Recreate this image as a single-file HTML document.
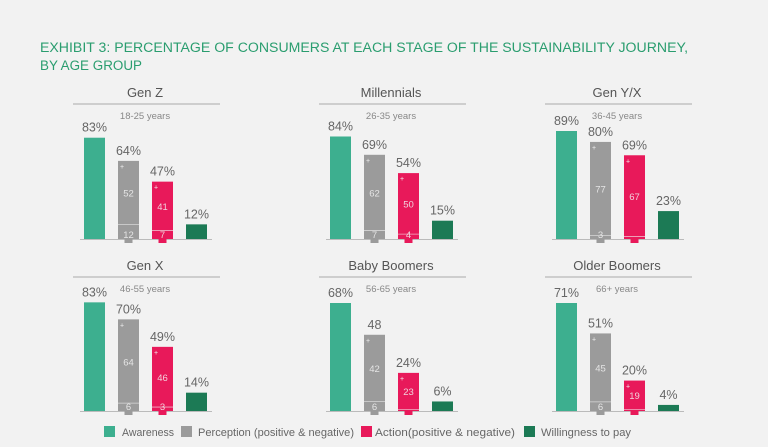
<!DOCTYPE html>
<html><head><meta charset="utf-8"><style>
body{margin:0;background:#f2f2f2;}
svg{display:block;font-family:"Liberation Sans",sans-serif;}
</style></head><body>
<svg id="chart" width="768" height="447" viewBox="0 0 768 447">
<rect width="768" height="447" fill="#f2f2f2"/>
<text x="40" y="52" font-size="13.5" fill="#2a9d6f" textLength="648" lengthAdjust="spacingAndGlyphs">EXHIBIT 3: PERCENTAGE OF CONSUMERS AT EACH STAGE OF THE SUSTAINABILITY JOURNEY,</text>
<text x="40" y="70" font-size="13.5" fill="#2a9d6f" textLength="102" lengthAdjust="spacingAndGlyphs">BY AGE GROUP</text>
<g id="panels"></g>
<g>
<rect x="104" y="426" width="11" height="11" fill="#3daf8f"/>
<text x="122" y="436" font-size="11" fill="#666" textLength="52" lengthAdjust="spacingAndGlyphs">Awareness</text>
<rect x="181" y="426" width="11" height="11" fill="#9b9b9b"/>
<text x="198" y="436" font-size="11" fill="#666" textLength="156" lengthAdjust="spacingAndGlyphs">Perception (positive &amp; negative)</text>
<rect x="361" y="426" width="11" height="11" fill="#e8195a"/>
<text x="375" y="436" font-size="11" fill="#666" textLength="140" lengthAdjust="spacingAndGlyphs">Action(positive &amp; negative)</text>
<rect x="524" y="426" width="11" height="11" fill="#1c7a55"/>
<text x="541" y="436" font-size="11" fill="#666" textLength="90" lengthAdjust="spacingAndGlyphs">Willingness to pay</text>
</g>
</svg>
<script>
const groups = ["Gen Z","Millennials","Gen Y/X","Gen X","Baby Boomers","Older Boomers"];
const ageRanges = ["18-25 years","26-35 years","36-45 years","46-55 years","56-65 years","66+ years"];
const awareness = [83,84,89,83,68,71];
const perception = [64,69,80,70,48,51];
const perceptionPos = [52,62,77,64,42,45];
const perceptionNeg = [12,7,3,6,6,6];
const action = [47,54,69,49,24,20];
const actionPos = [41,50,67,46,23,19];
const actionNeg = [7,4,2,3,1,1];
const willingness = [12,15,23,14,6,4];
const perceptionLabels = ["64%","69%","80%","70%","48","51%"];
const domainMax = [88.5,88.5,89,82.5,68,71];

const NS="http://www.w3.org/2000/svg";
const root=document.getElementById('panels');
function mk(tag,attrs,parent){const e=document.createElementNS(NS,tag);for(const k in attrs)e.setAttribute(k,attrs[k]);parent.appendChild(e);return e;}
const colX=[84,330,556], rowBase=[239,411], plotH=108;
groups.forEach((g,i)=>{
  const x0=colX[i%3], base=rowBase[Math.floor(i/3)];
  const y=v=>base-v/domainMax[i]*plotH;
  const gp=mk('g',{},root);
  
  
  const cx=x0+61, ty=base-(i<3?142:141);
  const t=mk('text',{x:cx,y:ty,'font-size':13,fill:'#555','text-anchor':'middle'},gp);t.textContent=g;
  
  
  const ln=mk('line',{x1:x0-11,x2:x0+136,y1:ty+7,y2:ty+7,stroke:'#aaa','stroke-width':1},gp);
  
  
  const st=mk('text',{x:cx,y:ty+22,'font-size':9.5,fill:'#888','text-anchor':'middle'},gp);st.textContent=ageRanges[i];
  
  
  const bl=mk('line',{x1:x0-4,x2:x0+128,y1:base+0.5,y2:base+0.5,stroke:'#bbb','stroke-width':1},gp);
  
  
  const W=21;
  function bar(bx,v,col,name,lab){
    const r=mk('rect',{x:bx,y:y(v),width:W,height:base-y(v),fill:col},gp);
    
    
    const tx=mk('text',{x:bx+W/2,y:y(v)-6,'font-size':12.5,fill:'#666','text-anchor':'middle'},gp);tx.textContent=lab;
    
    
  }
  function split(bx,pos,neg,tot,col){
    const sy=y(neg);
    const s=mk('line',{x1:bx,x2:bx+W,y1:sy,y2:sy,stroke:'#f2f2f2','stroke-width':0.8,'stroke-opacity':0.7},gp);
    
    
    const tab=mk('rect',{x:bx+W/2-4,y:base,width:8,height:4,fill:col},gp);
    
    
    const pt=mk('text',{x:bx+W/2,y:(y(tot)+sy)/2+4,'font-size':9.5,fill:'#f2f2f2','fill-opacity':0.85,'text-anchor':'middle'},gp);pt.textContent=pos;
    
    
    if(neg>=3){
      const nt=mk('text',{x:bx+W/2,y:base-1,'font-size':9.5,fill:'#f2f2f2','fill-opacity':0.85,'text-anchor':'middle'},gp);nt.textContent=neg;
      
      
    }
    const plus=mk('text',{x:bx+2,y:y(tot)+8,'font-size':7,fill:'#f2f2f2'},gp);plus.textContent='+';
    
    
  }
  bar(x0,awareness[i],'#3daf8f','bar-awareness',awareness[i]+'%');
  bar(x0+34,perception[i],'#9b9b9b','bar-perception',perceptionLabels[i]);
  split(x0+34,perceptionPos[i],perceptionNeg[i],perception[i],'#9b9b9b');
  bar(x0+68,action[i],'#e8195a','bar-action',action[i]+'%');
  split(x0+68,actionPos[i],actionNeg[i],action[i],'#e8195a');
  bar(x0+102,willingness[i],'#1c7a55','bar-willingness',willingness[i]+'%');
});
</script>
</body></html>
